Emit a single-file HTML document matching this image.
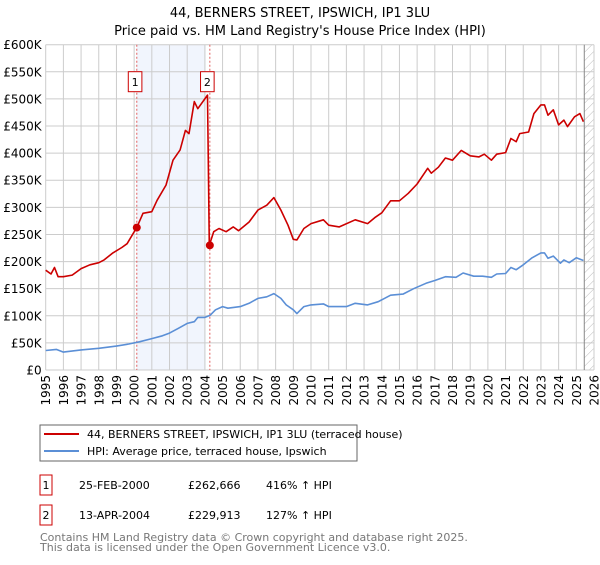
<!DOCTYPE html>
<html><head><meta charset="utf-8"><style>
body{margin:0;background:#fff;font-family:"Liberation Sans","DejaVu Sans",sans-serif;}
svg text{font-family:"DejaVu Sans","Liberation Sans",sans-serif;}
</style></head><body>
<svg id="c" width="600" height="560" viewBox="0 0 600 560" xmlns="http://www.w3.org/2000/svg">
<defs><pattern id="hatch" width="6" height="6" patternUnits="userSpaceOnUse" patternTransform="rotate(45)"><line x1="0" y1="0" x2="0" y2="6" stroke="#bbb" stroke-width="1"/></pattern></defs>
<text x="300" y="17" text-anchor="middle" font-size="13" fill="#000">44, BERNERS STREET, IPSWICH, IP1 3LU</text>
<text x="300" y="35" text-anchor="middle" font-size="13" fill="#000">Price paid vs. HM Land Registry's House Price Index (HPI)</text>
<g id="plot"></g>
<g>
<rect x="40" y="425" width="317" height="36" fill="#fff" stroke="#666" stroke-width="1"/>
<line x1="44" y1="434" x2="79" y2="434" stroke="#cc0000" stroke-width="2"/>
<text x="87" y="438" font-size="11">44, BERNERS STREET, IPSWICH, IP1 3LU (terraced house)</text>
<line x1="44" y1="451" x2="79" y2="451" stroke="#5b8fd6" stroke-width="2"/>
<text x="87" y="455" font-size="11">HPI: Average price, terraced house, Ipswich</text>
</g>
<g font-size="11">
<rect x="40" y="475" width="12" height="20" fill="#fff" stroke="#cc0000"/><text x="46" y="489" text-anchor="middle">1</text>
<text x="79" y="489">25-FEB-2000</text>
<text x="188" y="489">£262,666</text>
<text x="266" y="489">416% ↑ HPI</text>
<rect x="40" y="505" width="12" height="20" fill="#fff" stroke="#cc0000"/><text x="46" y="519" text-anchor="middle">2</text>
<text x="79" y="519">13-APR-2004</text>
<text x="188" y="519">£229,913</text>
<text x="266" y="519">127% ↑ HPI</text>
</g>
<text x="40" y="541" font-size="11" fill="#777">Contains HM Land Registry data © Crown copyright and database right 2025.</text>
<text x="40" y="551" font-size="11" fill="#777">This data is licensed under the Open Government Licence v3.0.</text>
</svg>
<script>
const yTicks=[0,50,100,150,200,250,300,350,400,450,500,550,600];
const yTickLabels=["£0","£50K","£100K","£150K","£200K","£250K","£300K","£350K","£400K","£450K","£500K","£550K","£600K"];
const years=[1995,1996,1997,1998,1999,2000,2001,2002,2003,2004,2005,2006,2007,2008,2009,2010,2011,2012,2013,2014,2015,2016,2017,2018,2019,2020,2021,2022,2023,2024,2025,2026];
const redT=[1995,1995.3,1995.5,1995.7,1996,1996.5,1997,1997.5,1998,1998.3,1998.8,1999.3,1999.6,2000.15,2000.5,2001,2001.3,2001.8,2002.2,2002.6,2002.9,2003.1,2003.4,2003.6,2004.15,2004.25,2004.5,2004.8,2005.2,2005.6,2005.9,2006.5,2007,2007.5,2007.9,2008.3,2008.7,2009,2009.2,2009.6,2010,2010.7,2011,2011.6,2012.5,2013.2,2013.6,2014,2014.5,2015,2015.5,2016,2016.6,2016.8,2017.2,2017.6,2018,2018.5,2019,2019.5,2019.8,2020.2,2020.5,2021,2021.3,2021.6,2021.8,2022.3,2022.6,2023,2023.2,2023.4,2023.7,2024,2024.3,2024.5,2024.9,2025.2,2025.4];
const redV=[184,177,189,172,172,175,187,194,198,203,216,226,233,263,289,292,313,341,387,406,442,436,495,482,507,230,255,261,255,264,257,273,295,304,318,295,267,241,240,261,270,277,267,264,277,270,281,290,312,312,326,343,372,363,374,391,387,405,395,393,398,387,398,401,427,421,436,439,473,489,489,470,480,452,461,449,467,473,458];
const blueT=[1995,1995.6,1996,1997,1998,1999,1999.7,2000.3,2001,2001.6,2002,2002.5,2003,2003.4,2003.6,2004,2004.3,2004.6,2005,2005.3,2006,2006.5,2007,2007.5,2007.9,2008.3,2008.6,2009,2009.2,2009.6,2010,2010.7,2011,2012,2012.5,2013.2,2013.8,2014.5,2015.2,2015.8,2016.5,2017,2017.6,2018.2,2018.6,2019.2,2019.7,2020.2,2020.5,2021,2021.3,2021.6,2022,2022.5,2023,2023.2,2023.4,2023.7,2024.1,2024.3,2024.6,2025,2025.4];
const blueV=[36,38,33,37,40,44,48,52,58,63,68,77,86,89,97,97,101,111,117,114,117,123,132,135,141,132,120,111,104,117,120,122,117,117,123,120,126,138,140,150,160,165,172,171,179,173,173,171,177,178,189,185,194,207,216,216,206,210,197,203,198,207,202];
const saleT=[2000.15,2004.28];
const saleV=[262.666,229.913];
const saleLabels=["1","2"];
const X0=45.7,X1=594,Y0=370,Y1=44.7;
const x=t=>X0+(t-1995)*(X1-X0)/31;
const y=v=>Y0-v*(Y0-Y1)/600;
const NS="http://www.w3.org/2000/svg";
const g=document.getElementById('plot');
function mk(tag,attrs,parent){const e=document.createElementNS(NS,tag);for(const k in attrs)e.setAttribute(k,attrs[k]);(parent||g).appendChild(e);return e;}
let band=mk('rect',{x:x(saleT[0]),y:Y1,width:x(2004.05)-x(saleT[0]),height:Y0-Y1,fill:'#eef3fc',opacity:0.8});


let hz=mk('rect',{x:x(2025.45),y:Y1,width:X1-x(2025.45),height:Y0-Y1,fill:'url(#hatch)'});


yTicks.forEach((v,i)=>{
 let l=mk('line',{x1:X0,x2:X1,y1:y(v),y2:y(v),stroke:'#cccccc','stroke-width':1});
 
 
 let t=mk('text',{x:X0-4,y:y(v)+4.5,'text-anchor':'end','font-size':12,fill:'#000'});
 t.textContent=yTickLabels[i];
 
 
});
years.forEach(yr=>{
 let l=mk('line',{x1:x(yr),x2:x(yr),y1:Y1,y2:Y0,stroke:'#cccccc','stroke-width':1});
 
 
 let t=mk('text',{x:0,y:0,'text-anchor':'end','font-size':12,fill:'#000',transform:`translate(${x(yr)+4.5},${Y0+5}) rotate(-90)`});
 t.textContent=yr;
 
 
});
let vl=mk('line',{x1:x(2025.45),x2:x(2025.45),y1:Y1,y2:Y0,stroke:'#888','stroke-width':1});


saleT.forEach((t,i)=>{
 let d=mk('line',{x1:x(t),x2:x(t),y1:Y1,y2:Y0,stroke:'#e06060','stroke-width':1,'stroke-dasharray':'2,2'});
 
 
});
function path(T,V,color,name){
 let d=T.map((t,i)=>(i?'L':'M')+x(t).toFixed(1)+','+y(V[i]).toFixed(1)).join(' ');
 let p=mk('path',{d:d,fill:'none',stroke:color,'stroke-width':1.6,'stroke-linejoin':'round'});
 
 
}
path(blueT,blueV,'#5b8fd6','hpi-line');
path(redT,redV,'#cc0000','property-price-line');
saleT.forEach((t,i)=>{
 let c=mk('circle',{cx:x(t),cy:y(saleV[i]),r:4,fill:'#cc0000'});
 
 
 let bx=x(t)-(i===0?1.7:2.5);
 let r=mk('rect',{x:bx-6.8,y:71.7,width:13.6,height:20,fill:'#fff',stroke:'#cc0000','stroke-width':1});
 
 
 let tx=mk('text',{x:bx,y:86,'text-anchor':'middle','font-size':11,fill:'#000'});
 tx.textContent=saleLabels[i];
 
 
});
</script>
</body></html>
